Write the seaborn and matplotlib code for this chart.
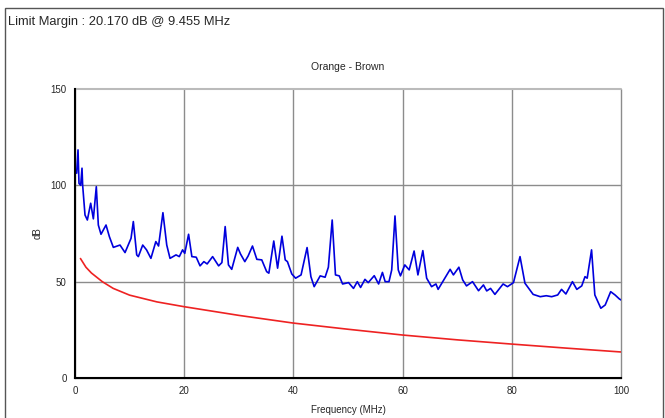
import pandas as pd
import matplotlib.pyplot as plt
import matplotlib.patches as patches
import numpy as np
import seaborn as sns

freq = [0.3, 0.55, 0.73, 1.04, 1.28, 1.4, 1.83, 2.26, 2.87, 3.36, 3.9, 4.27, 4.76, 5.68, 6.29,
        7.02, 8.24, 9.16, 10.26, 10.68, 11.3, 11.6, 12.4, 13.1, 13.9, 14.8, 15.3, 16.1, 16.8,
        17.4, 18.5, 19.1, 19.7, 20.1, 20.8, 21.4, 22.2, 22.9, 23.6, 24.2, 25.2, 26.3, 26.9,
        27.5, 28.1, 28.7, 29.8, 30.3, 31.1, 31.7, 32.5, 33.3, 34.2, 35.1, 35.5, 36.4, 37.1,
        37.9, 38.5, 38.9, 39.7, 40.4, 41.4, 42.5, 43.2, 43.8, 44.9, 45.8, 46.4, 47.1, 47.7,
        48.4, 49.0, 50.1, 51.0, 51.7, 52.3, 53.1, 53.7, 54.8, 55.6, 56.3, 56.8, 57.5, 58.0,
        58.6, 59.2, 59.6, 60.4, 61.2, 62.1, 62.8, 63.7, 64.4, 65.3, 66.1, 66.5, 67.6, 68.7,
        69.3, 70.3, 71.0, 71.7, 72.8, 73.9, 74.8, 75.4, 76.1, 76.9, 78.4, 79.2, 80.3, 81.5,
        82.4, 83.9, 85.2, 86.3, 87.3, 88.4, 89.1, 89.9, 91.1, 91.9, 92.8, 93.4, 93.8, 94.6,
        95.2, 96.3, 97.1, 98.1, 98.9, 99.7, 100.0]
level = [106.3, 118.4, 101, 100, 108.9, 100, 84.6, 82, 90.7, 82.6, 99.3, 79.4, 74.6, 79.4, 73.4,
         67.8, 69, 65.1, 72.5, 81.2, 63.9, 63, 69, 66.5, 62.1, 70.8, 68.5, 85.8, 69,
         62.1, 63.9, 63, 66.5, 64.7, 74.6, 63, 62.7, 58.2, 60.4, 59.2, 63, 58.2, 59.9,
         78.6, 58.7, 56.4, 67.8, 64.4, 60.4, 63.3, 68.5, 61.6, 61.3, 55.2, 54.4, 71.1, 57,
         73.6, 61.3, 60.4, 54, 51.8, 53.5, 67.7, 52.6, 47.4, 53, 52.3, 57.5, 82, 53.5,
         53, 48.8, 49.5, 46.5, 50, 47, 51.2, 49.5, 53.1, 48.8, 54.8, 50, 50, 56.1,
         84.1, 56.1, 53, 58.7, 56.1, 65.9, 53.5, 66.1, 51.8, 47.4, 48.8, 46, 51.2, 56.4,
         53.5, 57.5, 50.9, 47.8, 50, 45.3, 48.3, 45.2, 46.5, 43.4, 48.8, 47.4, 49.5, 63,
         49.2, 43.4, 42.2, 42.7, 42.2, 43.1, 46, 43.6, 50, 46, 47.8, 52.6, 51.8, 66.5,
         43.1, 36.2, 37.9, 44.8, 43.1, 41, 40.5]

# Limit line
limit_freq = [1, 2, 3, 5, 7, 10, 15, 20, 30, 40, 50, 60, 70, 80, 90, 100]
limit_level = [62, 57.5, 54.5, 50, 46.5, 43, 39.5, 37, 32.5, 28.5, 25.3, 22.3, 19.8, 17.6, 15.5, 13.5]

trace = pd.DataFrame({'Frequency': freq, 'dB': level})
limit = pd.DataFrame({'Frequency': limit_freq, 'dB': limit_level})

sns.set_style('white')
plt.rcParams['font.family'] = ['Liberation Sans', 'DejaVu Sans']

fig = plt.figure(figsize=(6.65, 4.18), dpi=100)
ax = fig.add_axes([0.1128, 0.0957, 0.8211, 0.6914])

sns.lineplot(data=trace, x='Frequency', y='dB', color='#0000dd', linewidth=1.2, ax=ax)
sns.lineplot(data=limit, x='Frequency', y='dB', color='#ee2222', linewidth=1.2, ax=ax)

ax.set_xlim(0, 100)
ax.set_ylim(0, 150)
ax.set_xticks([0, 20, 40, 60, 80, 100])
ax.set_yticks([0, 50, 100, 150])
ax.grid(True, color='#8c8c8c', linewidth=1)
ax.set_axisbelow(True)
for gl in ax.get_xgridlines() + ax.get_ygridlines():
    gl.set_clip_on(False)
ax.get_ygridlines()[-1].set_color('#bbbbbb')
ax.get_ygridlines()[-1].set_linewidth(1.5)
for s in ['top', 'right']:
    ax.spines[s].set_visible(False)
for s in ['left', 'bottom']:
    ax.spines[s].set_color('black')
    ax.spines[s].set_linewidth(1.5)
ax.tick_params(axis='y', direction='out', length=5, width=1.2, labelsize=7, pad=1)
ax.tick_params(axis='x', direction='inout', length=8, width=1.2, labelsize=7, pad=2)
ax.set_xlabel('Frequency (MHz)', fontsize=7, labelpad=6)
ax.set_ylabel('dB', fontsize=7, labelpad=6)
ax.set_title('Orange - Brown', fontsize=7.5, pad=14)

fig.text(0.012, 0.948, 'Limit Margin : 20.170 dB @ 9.455 MHz', fontsize=9.3, va='center')
fig.patches.append(patches.Rectangle((0.0075, -0.01), 0.99, 0.99, transform=fig.transFigure,
                                     fill=False, edgecolor='#555555', linewidth=1))

plt.savefig('out.png', dpi=100)
plt.close()
